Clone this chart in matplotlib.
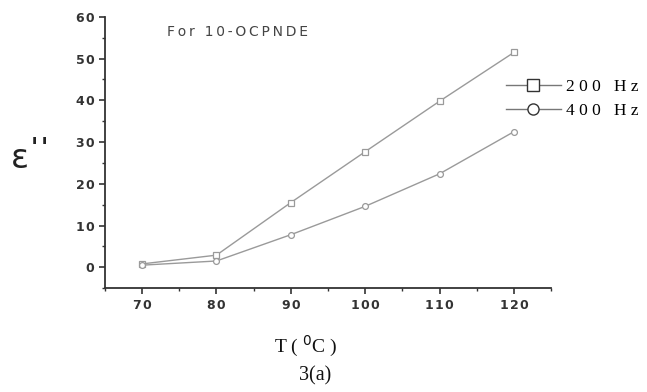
import matplotlib
matplotlib.use("Agg")
import matplotlib.pyplot as plt
from matplotlib.ticker import MultipleLocator, FuncFormatter
from matplotlib.lines import Line2D

temps = [70, 80, 90, 100, 110, 120]
eps_200 = [0.8, 2.9, 15.5, 27.7, 39.8, 51.5]
eps_400 = [0.5, 1.5, 7.8, 14.6, 22.4, 32.5]
labels = ["200 Hz", "400 Hz"]

TS = "\u2009"  # thin space used for letter spacing
HS = "\u200a"  # hair space


def spaced(s, sep=TS):
    return sep.join(s)


fig = plt.figure(figsize=(6.47, 3.92), dpi=100)
ax = fig.add_axes([0.162, 0.265, 0.69, 0.692])

lc = "#9a9a9a"
ax.plot(temps, eps_200, color=lc, lw=1.0, marker="s", ms=4.2, mfc="white", mec=lc, mew=0.9, label=labels[0])
ax.plot(temps, eps_400, color=lc, lw=1.0, marker="o", ms=4.2, mfc="white", mec=lc, mew=0.9, label=labels[1])

ax.set_xlim(65, 125)
ax.set_ylim(-5, 60)
ax.set_yticks([0, 10, 20, 30, 40, 50, 60])
ax.set_xticks([70, 80, 90, 100, 110, 120])
ax.xaxis.set_minor_locator(MultipleLocator(5))
ax.yaxis.set_minor_locator(MultipleLocator(5))
fmt = FuncFormatter(lambda v, p: spaced("%d" % v, HS))
ax.xaxis.set_major_formatter(fmt)
ax.yaxis.set_major_formatter(fmt)
for s in ["top", "right"]:
    ax.spines[s].set_visible(False)
for s in ["left", "bottom"]:
    ax.spines[s].set_color("#333333")
    ax.spines[s].set_linewidth(1.3)
ax.tick_params(which="major", direction="out", length=4, width=1.2, color="#333333",
               labelsize=9, labelcolor="#333333")
ax.tick_params(axis="x", which="major", pad=3.5)
ax.tick_params(axis="y", which="major", pad=3.5)
ax.tick_params(which="minor", direction="out", length=2.5, width=1.0, color="#333333")
for t in ax.get_xticklabels() + ax.get_yticklabels():
    t.set_fontweight("bold")
    t.set_fontfamily("DejaVu Sans")

fig.text(0.258, 0.918, spaced("For 10-OCPNDE"), fontsize=10, color="#444444",
         family="DejaVu Sans", ha="left", va="center")

fig.text(0.031, 0.595, "ε", fontsize=24, color="#222222", family="DejaVu Sans",
         ha="center", va="center")
for xq in (0.053, 0.069):
    fig.text(xq, 0.622, "'", fontsize=17, color="#222222", family="DejaVu Sans",
             ha="center", va="center", fontweight="bold")

fig.text(0.472, 0.115, "T ( $^{0}$C )", fontsize=14, family="Liberation Serif",
         ha="center", va="center", color="#111111")
fig.text(0.487, 0.04, "3(a)", fontsize=14.5, family="Liberation Serif",
         ha="center", va="center", color="#111111")

hs = [Line2D([0], [0], color="#777777", lw=1.0, marker=m, ms=8, mfc="white", mec="#333333", mew=1.0)
      for m in ["s", "o"]]
leg = fig.legend(hs, [spaced(l, " ") for l in labels], loc="upper left",
                 bbox_to_anchor=(0.768, 0.822), frameon=False,
                 prop={"family": "Liberation Serif", "size": 12.5}, handlelength=3.2,
                 handletextpad=0.3, labelspacing=0.5, borderpad=0)

fig.savefig("out.png", dpi=100)
